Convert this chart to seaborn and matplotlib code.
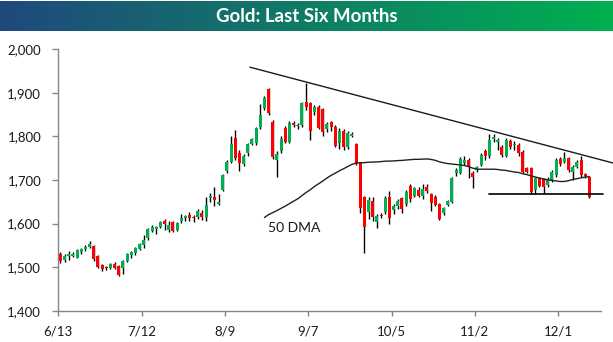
import numpy as np
import pandas as pd
import matplotlib
matplotlib.use("Agg")
import matplotlib.pyplot as plt
import seaborn as sns

# Daily gold prices (USD/oz), 13 June - 12 Dec 2011
open_ = [1530, 1516, 1526, 1526, 1522, 1534, 1541, 1546, 1548, 1526,
         1505, 1500, 1497, 1508, 1502, 1497, 1513, 1527, 1532, 1542,
         1551, 1566, 1584, 1587, 1592, 1606, 1585, 1603, 1586, 1605,
         1612, 1620, 1616, 1614, 1624, 1616, 1659, 1662, 1644, 1677,
         1721, 1741, 1796, 1763, 1737, 1763, 1783, 1784, 1821, 1865,
         1909, 1834, 1746, 1767, 1819, 1788, 1830, 1823, 1826, 1880,
         1876, 1857, 1868, 1862, 1816, 1832, 1822, 1784, 1813, 1776,
         1801, 1783, 1740, 1660, 1627, 1652, 1604, 1620, 1627, 1660,
         1630, 1640, 1658, 1645, 1686, 1664, 1677, 1663, 1685, 1667,
         1662, 1644, 1624, 1643, 1650, 1715, 1716, 1738, 1745, 1716,
         1722, 1735, 1767, 1754, 1793, 1788, 1776, 1755, 1790, 1780,
         1780, 1765, 1727, 1727, 1677, 1704, 1702, 1689, 1700, 1711,
         1748, 1742, 1750, 1719, 1730, 1746, 1714, 1707]
close = [1514, 1526, 1529, 1531, 1539, 1541, 1547, 1552, 1518, 1501,
         1496, 1497, 1507, 1498, 1483, 1514, 1530, 1535, 1543, 1552,
         1562, 1588, 1591, 1592, 1604, 1599, 1597, 1584, 1601, 1612,
         1617, 1613, 1612, 1629, 1616, 1643, 1664, 1654, 1650, 1711,
         1742, 1783, 1750, 1738, 1755, 1783, 1793, 1819, 1849, 1889,
         1854, 1752, 1760, 1794, 1788, 1830, 1826, 1826, 1876, 1868,
         1812, 1868, 1819, 1811, 1829, 1822, 1778, 1813, 1775, 1809,
         1806, 1740, 1635, 1593, 1654, 1614, 1617, 1617, 1658, 1612,
         1640, 1652, 1633, 1672, 1657, 1681, 1664, 1680, 1675, 1647,
         1643, 1611, 1635, 1652, 1704, 1724, 1749, 1747, 1730, 1708,
         1729, 1758, 1754, 1792, 1798, 1792, 1757, 1792, 1776, 1783,
         1761, 1719, 1719, 1673, 1704, 1687, 1683, 1702, 1719, 1746,
         1737, 1750, 1723, 1730, 1742, 1711, 1709, 1662]
high = [1535, 1530, 1537, 1535, 1541, 1545, 1550, 1560, 1551, 1528,
        1507, 1503, 1510, 1511, 1504, 1517, 1533, 1538, 1547, 1556,
        1574, 1590, 1596, 1595, 1606, 1610, 1605, 1606, 1603, 1621,
        1620, 1627, 1619, 1634, 1630, 1662, 1670, 1683, 1668, 1714,
        1745, 1800, 1815, 1768, 1760, 1786, 1797, 1822, 1875, 1893,
        1912, 1838, 1766, 1800, 1823, 1836, 1836, 1830, 1880, 1922,
        1880, 1872, 1872, 1866, 1833, 1836, 1826, 1820, 1816, 1812,
        1810, 1786, 1742, 1664, 1660, 1660, 1623, 1625, 1663, 1675,
        1644, 1656, 1662, 1676, 1690, 1685, 1685, 1690, 1690, 1670,
        1665, 1647, 1638, 1655, 1707, 1728, 1752, 1755, 1750, 1720,
        1733, 1762, 1771, 1805, 1805, 1797, 1780, 1796, 1794, 1790,
        1785, 1768, 1730, 1730, 1707, 1708, 1705, 1706, 1722, 1750,
        1752, 1765, 1753, 1734, 1745, 1755, 1717, 1710]
low = [1510, 1512, 1516, 1524, 1520, 1530, 1538, 1543, 1514, 1498,
       1491, 1494, 1495, 1496, 1480, 1485, 1511, 1522, 1528, 1539,
       1544, 1563, 1580, 1577, 1590, 1586, 1581, 1581, 1583, 1601,
       1607, 1605, 1603, 1611, 1608, 1606, 1650, 1640, 1642, 1675,
       1716, 1738, 1745, 1720, 1733, 1755, 1780, 1780, 1818, 1860,
       1850, 1748, 1706, 1762, 1785, 1784, 1822, 1818, 1822, 1860,
       1792, 1850, 1816, 1800, 1810, 1812, 1775, 1772, 1770, 1772,
       1798, 1735, 1625, 1533, 1610, 1605, 1590, 1612, 1622, 1600,
       1622, 1633, 1625, 1640, 1650, 1660, 1660, 1656, 1671, 1629,
       1640, 1608, 1620, 1640, 1647, 1710, 1713, 1734, 1705, 1681,
       1718, 1732, 1745, 1750, 1788, 1770, 1752, 1752, 1772, 1770,
       1755, 1715, 1715, 1668, 1668, 1683, 1670, 1685, 1696, 1708,
       1732, 1738, 1719, 1700, 1727, 1707, 1705, 1658]

tick_labels = ["6/13", "7/12", "8/9", "9/7", "10/5", "11/2", "12/1"]
tick_every = 20
n_slots = 130.3

# Hand-drawn resistance / support lines (trading-day index, price)
resistance = [(46.0, 1959), (133.2, 1739)]
support = [(103.5, 1667), (130.9, 1667)]
dma_window = 50

df = pd.DataFrame({"open": open_, "close": close, "high": high, "low": low})
df["pos"] = np.arange(len(df)) + 0.5
df["up"] = df["close"] >= df["open"]
df["dma"] = df["close"].rolling(dma_window).mean()

sns.set_theme(style="white")
plt.rcParams["font.family"] = ["Lato", "DejaVu Sans"]

fig = plt.figure(figsize=(6.13, 3.42), dpi=100)
ax = fig.add_axes([58.3 / 613, 1 - 310.7 / 342, (601 - 58.3) / 613, (310.7 - 49.3) / 342])

green = "#00B050"
red = "#FF0000"

# wicks
ax.vlines(df["pos"], df["low"], df["high"], color="black", linewidth=1.0, zorder=2)
# bodies
body_bottom = df[["open", "close"]].min(axis=1)
body_height = (df["close"] - df["open"]).abs().clip(lower=1.5)
ax.bar(df["pos"], body_height, bottom=body_bottom, width=0.72,
       color=np.where(df["up"], green, red), edgecolor="none", zorder=3)

# 50-day moving average
sns.lineplot(data=df.dropna(subset=["dma"]), x="pos", y="dma", ax=ax,
             color="#202020", linewidth=1.0, zorder=4)
ax.text(50.3, 1590, "50 DMA", fontsize=10, va="center", ha="left", color="#1a1a1a")

# trend lines
ax.plot([p[0] for p in resistance], [p[1] for p in resistance],
        color="#1a1a1a", linewidth=1.0, clip_on=False, zorder=5)
ax.plot([p[0] for p in support], [p[1] for p in support],
        color="black", linewidth=1.2, clip_on=False, zorder=5)

ax.set_xlim(0, n_slots)
ax.set_ylim(1400, 2000)
ax.set_xticks(np.arange(len(tick_labels)) * tick_every)
ax.set_xticklabels(tick_labels)
ax.set_yticks(np.arange(1400, 2001, 100))
ax.set_yticklabels([f"{v:,}" for v in range(1400, 2001, 100)])
ax.set_xlabel("")
ax.set_ylabel("")

for side in ("top", "right"):
    ax.spines[side].set_visible(False)
for side in ("left", "bottom"):
    ax.spines[side].set_color("#868686")
    ax.spines[side].set_linewidth(1.0)
ax.tick_params(axis="both", which="both", direction="out", width=1.0,
               color="#868686", labelsize=9.5, labelcolor="#1a1a1a")
ax.tick_params(axis="y", length=4.3, pad=8)
ax.tick_params(axis="x", length=3.6, pad=7)
ax.tick_params(left=True, bottom=True)

# title banner with blue-to-green gradient
bar = fig.add_axes([0, 1 - 31 / 342, 1, 30 / 342])
grad = np.linspace(0, 1, 256)[None, :]
cmap = matplotlib.colors.LinearSegmentedColormap.from_list("banner", ["#1F497D", "#00B050"])
bar.imshow(grad, aspect="auto", cmap=cmap, extent=[0, 1, 0, 1])
bar.set_axis_off()
bar.text(0.5, 0.5, "Gold: Last Six Months", color="white", fontsize=13.4,
         fontweight="bold", ha="center", va="center", transform=bar.transAxes)

fig.savefig("out.png", dpi=100)
